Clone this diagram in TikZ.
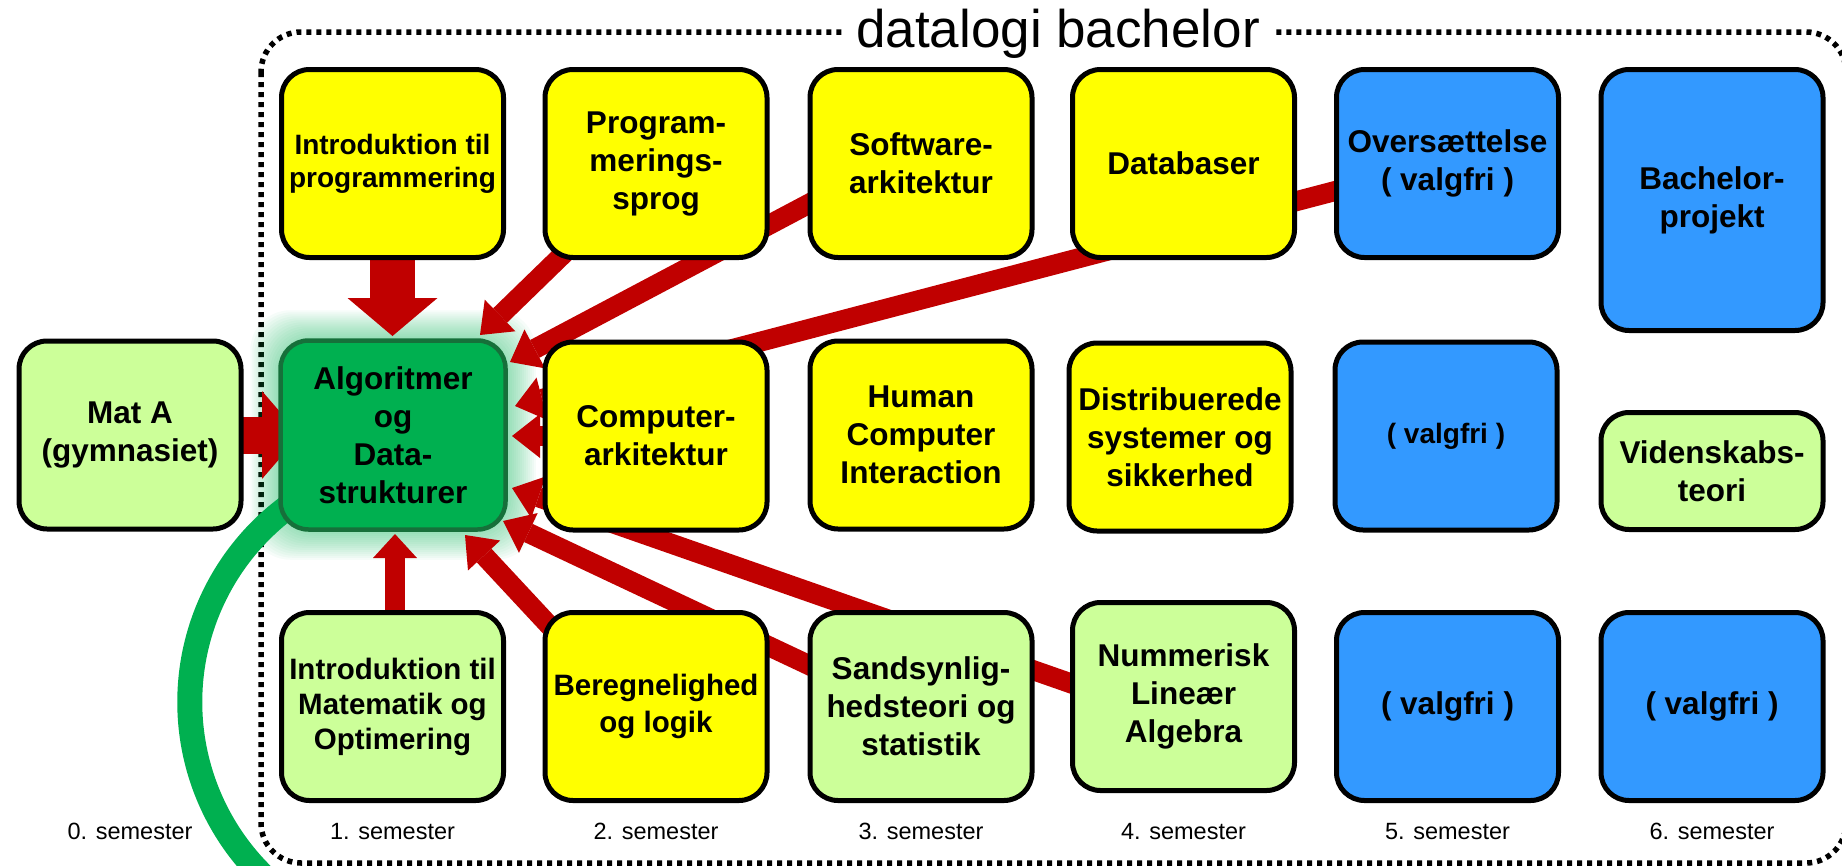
\documentclass[tikz,border=0pt]{standalone}
\usepackage{fontspec}
\setmainfont{Liberation Sans}
\usetikzlibrary{arrows.meta,calc}
\definecolor{cyel}{HTML}{FFFF00}
\definecolor{clgr}{HTML}{CCFF99}
\definecolor{cblu}{HTML}{3399FF}
\definecolor{cgrn}{HTML}{00B050}
\definecolor{cgrb}{HTML}{16703A}
\definecolor{cred}{HTML}{C00000}
\pgfdeclarelayer{framelayer}
\pgfdeclarelayer{glowlayer}
\pgfdeclarelayer{arrowlayer}
\pgfsetlayers{framelayer,glowlayer,arrowlayer,main}
\begin{document}
\begin{tikzpicture}[x=1pt,y=-1pt,
  box/.style={draw=black, line width=5pt, rounded corners=28pt,
    minimum width=222pt, minimum height=188pt, inner sep=0pt, align=center,
    font=\bfseries\fontsize{31.5}{38}\selectfont},
  yel/.style={box, fill=cyel},
  lgr/.style={box, fill=clgr},
  blu/.style={box, fill=cblu},
  rarrow/.style={draw=cred, line width=20pt, line cap=butt,
    -{Triangle[length=28pt,width=44pt,line width=0pt]}},
  sem/.style={anchor=base, font=\fontsize{23.5}{28}\selectfont}
]
\useasboundingbox (0,0) rectangle (1842,865);

% course boxes
\node[yel, font=\bfseries\fontsize{28}{33}\selectfont] (introprog) at (392.5,163.5) {Introduktion til\\programmering};
\node[yel] (prog) at (656,163.5) {Program-\\merings-\\sprog};
\node[yel] (soft) at (921,163.5) {Software-\\arkitektur};
\node[yel] (db) at (1183.5,163.5) {Databaser};
\node[blu] (overs) at (1447.5,163.5) {Oversættelse\\( valgfri )};
\node[blu, minimum height=261pt] (bach) at (1712,200) {Bachelor-\\projekt};

\node[lgr] (mata) at (130,435) {Mat A\\(gymnasiet)};
\node[box, fill=cgrn, draw=cgrb, line width=4.5pt, minimum width=225pt, minimum height=189pt] (alg) at (393,435) {Algoritmer\\og\\Data-\\strukturer};
\node[yel] (comp) at (656,436) {Computer-\\arkitektur};
\node[yel] (hci) at (921,435) {Human\\Computer\\Interaction};
\node[yel] (dist) at (1180,437) {Distribuerede\\systemer og\\sikkerhed};
\node[blu, font=\bfseries\fontsize{28}{33}\selectfont] (valg1) at (1446,436) {( valgfri )};
\node[lgr, minimum height=117pt] (viden) at (1712,471) {Videnskabs-\\teori};

\node[lgr, font=\bfseries\fontsize{29.5}{35}\selectfont] (intromat) at (392.5,706.5) {Introduktion til\\Matematik og\\Optimering};
\node[yel, font=\bfseries\fontsize{29.5}{37}\selectfont] (bereg) at (656,706.5) {Beregnelighed\\og logik};
\node[lgr] (sand) at (921,706.5) {Sandsynlig-\\hedsteori og\\statistik};
\node[lgr] (num) at (1183.5,696.5) {Nummerisk\\Lineær\\Algebra};
\node[blu] (valg2) at (1447.5,706.5) {( valgfri )};
\node[blu] (valg3) at (1712,706.5) {( valgfri )};

% title and semester labels
\node[fill=white, inner xsep=12pt, inner ysep=3pt, anchor=base,
  font=\fontsize{53}{60}\selectfont] (title) at (1058,47) {datalogi bachelor};
\node[sem] (s0) at (130,839) {0. semester};
\node[sem] (s1) at (392.5,839) {1. semester};
\node[sem] (s2) at (656,839) {2. semester};
\node[sem] (s3) at (921,839) {3. semester};
\node[sem] (s4) at (1183.5,839) {4. semester};
\node[sem] (s5) at (1447.5,839) {5. semester};
\node[sem] (s6) at (1712,839) {6. semester};

% dotted frame
\begin{pgfonlayer}{framelayer}
\draw[line width=5.5pt, dash pattern=on 5pt off 5pt, rounded corners=40pt]
  (261,32) rectangle (1846,863);
\end{pgfonlayer}

% glow around Algoritmer og Datastrukturer
\begin{pgfonlayer}{glowlayer}
\foreach \d in {2,4,...,28}{
  \fill[cgrn, opacity=0.035, rounded corners=40pt]
    ([shift={(-\d,\d)}]alg.south west) rectangle ([shift={(\d,-\d)}]alg.north east);
}
\end{pgfonlayer}

% prerequisite arrows
\begin{pgfonlayer}{arrowlayer}
\coordinate (tTop) at (392.5,336);
\coordinate (tMat) at (300,435);
\coordinate (tBot) at (395,534);
\coordinate (tProg) at (480,335);
\coordinate (tSoft) at (510,362);
\coordinate (tOvers) at (515,406);
\coordinate (tComp) at (512,436);
\coordinate (tNum) at (512,488);
\coordinate (tSand) at (503,521);
\coordinate (tBereg) at (465,535);

\draw[rarrow, line width=45pt, -{Triangle[length=38pt,width=90pt,line width=0pt]}] (introprog.center) -- (tTop);
\draw[rarrow, line width=37pt, -{Triangle[length=38pt,width=88pt,line width=0pt]}] (mata.center) -- (tMat);
\draw[rarrow, -{Triangle[length=24pt,width=44pt,line width=0pt]}] ([xshift=2.5]intromat.center) -- (tBot);
\draw[rarrow] ([shift={(-56,55)}]prog.center) -- (tProg);
\draw[rarrow] ([shift={(-71,18.5)}]soft.center) -- (tSoft);
\draw[rarrow] ([shift={(-47.5,10.5)}]overs.center) -- (tOvers);
\draw[rarrow] (comp.center) -- (tComp);
\draw[rarrow] ([shift={(-33.5,14.5)}]num.center) -- (tNum);
\draw[rarrow] ([shift={(-21,1.5)}]sand.center) -- (tSand);
\draw[rarrow] ([shift={(-56,-26.5)}]bereg.center) -- (tBereg);

% green loop leaving Algoritmer
\draw[cgrn, line width=25pt] ([shift={(-89,61)}]alg.center) arc[start angle=238, end angle=125, radius=243];
\end{pgfonlayer}
\end{tikzpicture}
\end{document}
